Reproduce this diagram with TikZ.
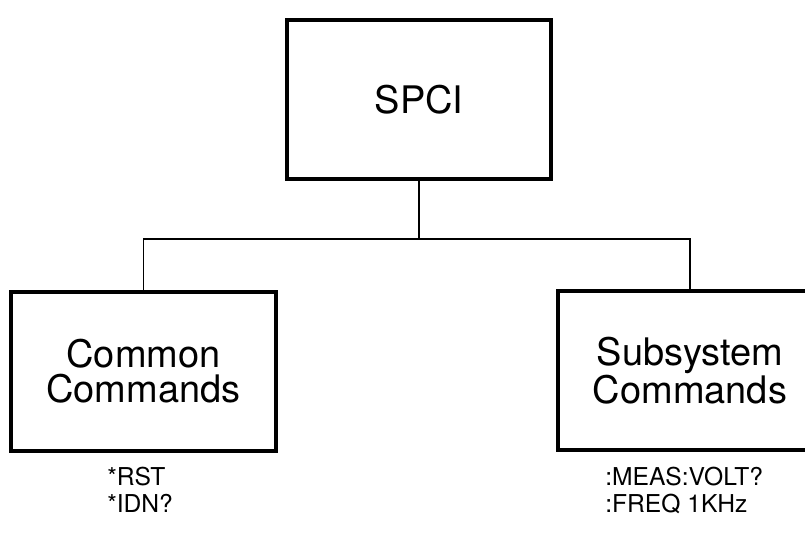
\documentclass[tikz,border=0pt]{standalone}
\usepackage{fontspec}
\setmainfont{TeX Gyre Heros}
\usetikzlibrary{positioning}

\begin{document}
\begin{tikzpicture}[x=0.025cm,y=-0.025cm]
  \tikzset{block/.style={draw,line width=2.8pt,minimum width=6.6cm,minimum height=3.975cm,align=center,
      font=\fontsize{27}{25}\selectfont},
    wire/.style={line width=1.4pt},
    cmdlist/.style={anchor=base west,align=left,inner sep=0pt,font=\fontsize{17.5}{18.5}\selectfont}}
  \clip (0,0) rectangle (805,542);
  \node[block] (spci)   at (419,99.5)  {SPCI};
  \node[block] (common) at (143.5,371.5) {Common\\Commands};
  \node[block] (subsys) at (690,370.5) {Subsystem\\Commands};
  % tree connectors
  \draw[wire] (spci.south) -- ++(0,58) coordinate (fork);
  \draw[wire] (common.north) |- (fork) -| (subsys.north);
  % example commands
  \node[cmdlist] (commonlist) at (107,512) {*RST\\*IDN?};
  \node[cmdlist] (subsyslist) at (605,512) {:MEAS:VOLT?\\:FREQ 1KHz};
\end{tikzpicture}
\end{document}
